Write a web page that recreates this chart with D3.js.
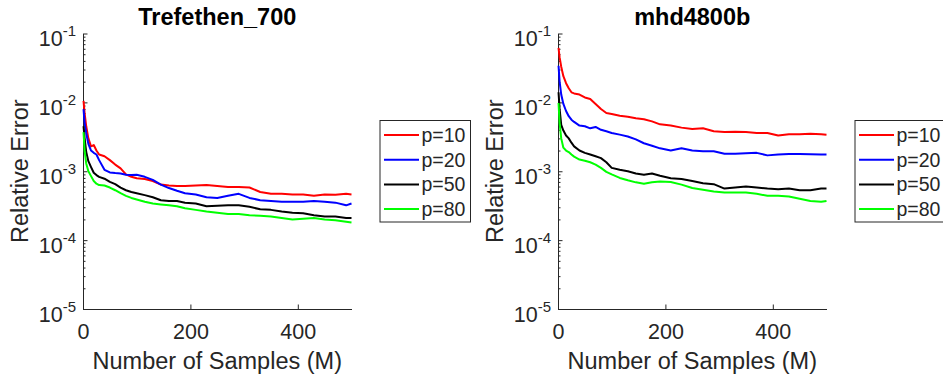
<!DOCTYPE html>
<html>
<head>
<meta charset="utf-8">
<script src="https://cdn.jsdelivr.net/npm/d3@7"></script>
<style>
  html, body { margin: 0; padding: 0; background: #fff; }
  svg { display: block; }
  text { font-family: "Liberation Sans", Arial, Helvetica, sans-serif; }
</style>
</head>
<body>
<svg id="chart" width="943" height="377"></svg>
<script>
// ---- data ----
const samples = [1,3,6,10,15,20,25,30,40,50,60,70,80,90,100,115,130,145,160,175,190,210,230,250,270,290,310,330,350,370,390,410,430,450,470,490,500];

const trefP10 = [1.05e-2,7.0e-3,4.5e-3,3.0e-3,2.3e-3,2.4e-3,2.0e-3,1.75e-3,1.65e-3,1.45e-3,1.25e-3,1.1e-3,9.0e-4,8.3e-4,7.9e-4,7.7e-4,7.2e-4,6.4e-4,6.2e-4,6.1e-4,6.1e-4,6.2e-4,6.3e-4,6.1e-4,5.9e-4,5.9e-4,5.8e-4,5.0e-4,4.7e-4,4.7e-4,4.6e-4,4.6e-4,4.4e-4,4.6e-4,4.55e-4,4.7e-4,4.6e-4];
const trefP20 = [8.0e-3,5.0e-3,3.6e-3,2.5e-3,2.0e-3,1.85e-3,1.75e-3,1.45e-3,1.05e-3,9.6e-4,9.4e-4,9.3e-4,8.9e-4,8.8e-4,8.9e-4,8.3e-4,7.5e-4,6.4e-4,5.7e-4,5.2e-4,4.8e-4,4.6e-4,4.2e-4,4.1e-4,4.4e-4,4.7e-4,4.1e-4,3.8e-4,3.7e-4,3.6e-4,3.6e-4,3.6e-4,3.7e-4,3.6e-4,3.5e-4,3.2e-4,3.4e-4];
const trefP50 = [4.5e-3,3.0e-3,1.9e-3,1.4e-3,1.15e-3,9.5e-4,8.8e-4,8.3e-4,7.8e-4,7.0e-4,6.5e-4,5.8e-4,5.3e-4,5.0e-4,4.8e-4,4.5e-4,4.2e-4,3.8e-4,3.7e-4,3.7e-4,3.5e-4,3.4e-4,3.1e-4,3.15e-4,3.2e-4,3.2e-4,3.05e-4,2.8e-4,2.75e-4,2.6e-4,2.5e-4,2.45e-4,2.3e-4,2.2e-4,2.2e-4,2.1e-4,2.1e-4];
const trefP80 = [3.7e-3,2.0e-3,1.3e-3,1.0e-3,8.5e-4,7.2e-4,6.6e-4,6.3e-4,6.2e-4,5.8e-4,5.3e-4,4.8e-4,4.4e-4,4.1e-4,3.9e-4,3.6e-4,3.4e-4,3.3e-4,3.2e-4,3.1e-4,2.9e-4,2.75e-4,2.6e-4,2.5e-4,2.4e-4,2.4e-4,2.3e-4,2.25e-4,2.2e-4,2.1e-4,2.0e-4,2.05e-4,2.1e-4,2.0e-4,1.95e-4,1.85e-4,1.8e-4];

const mhdP10 = [6.2e-2,4.5e-2,3.3e-2,2.4e-2,1.9e-2,1.6e-2,1.4e-2,1.35e-2,1.3e-2,1.18e-2,1.12e-2,9.5e-3,8.0e-3,7.0e-3,6.8e-3,6.4e-3,6.2e-3,5.9e-3,5.7e-3,5.3e-3,4.8e-3,4.6e-3,4.3e-3,4.1e-3,4.2e-3,3.8e-3,3.7e-3,3.75e-3,3.7e-3,3.6e-3,3.6e-3,3.3e-3,3.45e-3,3.45e-3,3.5e-3,3.45e-3,3.4e-3];
const mhdP20 = [3.4e-2,2.0e-2,1.3e-2,9.5e-3,7.5e-3,6.3e-3,5.6e-3,5.2e-3,4.6e-3,4.5e-3,4.2e-3,4.4e-3,4.0e-3,3.8e-3,3.6e-3,3.4e-3,3.2e-3,2.9e-3,2.55e-3,2.35e-3,2.15e-3,2.0e-3,2.15e-3,2.0e-3,1.95e-3,1.95e-3,1.8e-3,1.8e-3,1.82e-3,1.85e-3,1.7e-3,1.75e-3,1.78e-3,1.78e-3,1.76e-3,1.75e-3,1.75e-3];
const mhdP50 = [1.4e-2,8.0e-3,4.7e-3,3.9e-3,3.3e-3,3.0e-3,2.6e-3,2.3e-3,2.0e-3,1.85e-3,1.75e-3,1.65e-3,1.55e-3,1.35e-3,1.12e-3,1.05e-3,1.0e-3,9.3e-4,8.9e-4,9.3e-4,8.6e-4,7.9e-4,7.7e-4,7.2e-4,6.7e-4,6.5e-4,5.6e-4,5.8e-4,6.0e-4,5.8e-4,5.6e-4,5.5e-4,5.6e-4,5.3e-4,5.3e-4,5.6e-4,5.6e-4];
const mhdP80 = [9.8e-3,5.0e-3,3.0e-3,2.2e-3,2.0e-3,1.9e-3,1.75e-3,1.63e-3,1.48e-3,1.42e-3,1.35e-3,1.25e-3,1.12e-3,9.8e-4,9.0e-4,8.0e-4,7.4e-4,6.9e-4,6.6e-4,6.9e-4,7.1e-4,7.0e-4,6.4e-4,5.7e-4,5.4e-4,5.1e-4,4.9e-4,4.9e-4,4.9e-4,4.7e-4,4.4e-4,4.4e-4,4.3e-4,4.0e-4,3.7e-4,3.6e-4,3.7e-4];

const seriesNames = ["p=10", "p=20", "p=50", "p=80"];
const seriesColors = ["#ff0000", "#0000ff", "#000000", "#00ff00"];
const yExponents = [-5, -4, -3, -2, -1];
const xTickValues = [0, 200, 400];
const panelTitles = ["Trefethen_700", "mhd4800b"];
const xLabel = "Number of Samples (M)";
const yLabel = "Relative Error";

const panels = [
  { title: panelTitles[0], left: 83, series: [trefP10, trefP20, trefP50, trefP80] },
  { title: panelTitles[1], left: 558, series: [mhdP10, mhdP20, mhdP50, mhdP80] }
];

// ---- drawing ----
const svg = d3.select("#chart");
const axisColor = "#262626";
const plotTop = 33.5, plotBottom = 309, plotW = 268.5;

panels.forEach(p => {
  const x = d3.scaleLinear().domain([0, 500]).range([p.left, p.left + plotW]);
  const y = d3.scaleLog().domain([1e-5, 1e-1]).range([plotBottom, plotTop]);
  const g = svg.append("g");

  // minor y ticks
  const minor = [];
  for (let e = -5; e < -1; e++) for (let k = 2; k <= 9; k++) minor.push(k * Math.pow(10, e));
  g.append("g").attr("transform", `translate(${p.left},0)`)
    .call(d3.axisLeft(y).tickValues(minor).tickSizeInner(-2.5).tickSizeOuter(0).tickFormat(""))
    .call(a => a.select(".domain").remove())
    .call(a => a.selectAll("line").attr("stroke", axisColor));

  // major y axis
  const yAxis = g.append("g").attr("transform", `translate(${p.left},0)`)
    .call(d3.axisLeft(y).tickValues(yExponents.map(e => Math.pow(10, e))).tickSizeInner(-4.5).tickSizeOuter(0).tickFormat(""));
  yAxis.attr("font-family", null);
  yAxis.select(".domain").attr("stroke", axisColor);
  yAxis.selectAll("line").attr("stroke", axisColor);
  yAxis.selectAll(".tick").each(function(d) {
    const t = d3.select(this).select("text");
    t.attr("x", -7).attr("y", 0).attr("dy", null)
      .attr("fill", axisColor).attr("font-size", "21.5px").attr("text-anchor", "end");
    t.text(null);
    t.append("tspan").attr("dy", 12).text("10");
    t.append("tspan").attr("dy", -9.6).attr("font-size", "15px").text(String(Math.round(Math.log10(d))));
  });

  // x axis
  const xAxis = g.append("g").attr("transform", `translate(0,${plotBottom})`)
    .call(d3.axisBottom(x).tickValues(xTickValues).tickSizeInner(-4.5).tickSizeOuter(0).tickFormat(d3.format("d")));
  xAxis.attr("font-family", null);
  xAxis.select(".domain").attr("stroke", axisColor);
  xAxis.selectAll("line").attr("stroke", axisColor);
  xAxis.selectAll("text").attr("y", 0).attr("dy", 30).attr("fill", axisColor)
    .attr("font-size", "21.5px");

  // curves
  const line = d3.line().x((d, i) => x(samples[i])).y(d => y(d));
  p.series.forEach((s, i) => {
    g.append("path").datum(s).attr("d", line)
      .attr("fill", "none").attr("stroke", seriesColors[i])
      .attr("stroke-width", 2).attr("stroke-linejoin", "round");
  });

  // title
  g.append("text").attr("x", p.left + plotW / 2).attr("y", 25)
    .attr("text-anchor", "middle").attr("font-weight", "bold")
    .attr("font-size", "23.5px").attr("fill", "#000").text(p.title);

  // x label
  g.append("text").attr("x", p.left + plotW / 2).attr("y", 369)
    .attr("text-anchor", "middle").attr("font-size", "23.5px")
    .attr("fill", axisColor).text(xLabel);

  // y label
  g.append("text")
    .attr("transform", `translate(${p.left - 55},${(plotTop + plotBottom) / 2}) rotate(-90)`)
    .attr("text-anchor", "middle").attr("font-size", "23.5px")
    .attr("fill", axisColor).text(yLabel);

  // legend
  const lx = p.left + plotW + 28.5, ly = 120.5;
  const leg = g.append("g").attr("transform", `translate(${lx},${ly})`);
  leg.append("rect").attr("x", 0).attr("y", 0).attr("width", 90.5).attr("height", 101.5)
    .attr("fill", "#fff").attr("stroke", axisColor).attr("stroke-width", 1);
  seriesNames.forEach((name, i) => {
    const yy = 14.5 + i * 24.7;
    leg.append("line").attr("x1", 4).attr("x2", 39).attr("y1", yy).attr("y2", yy)
      .attr("stroke", seriesColors[i]).attr("stroke-width", 2);
    leg.append("text").attr("x", 41.5).attr("y", yy + 7).attr("font-size", "19.5px")
      .attr("fill", axisColor).text(name);
  });
});
</script>
</body>
</html>
